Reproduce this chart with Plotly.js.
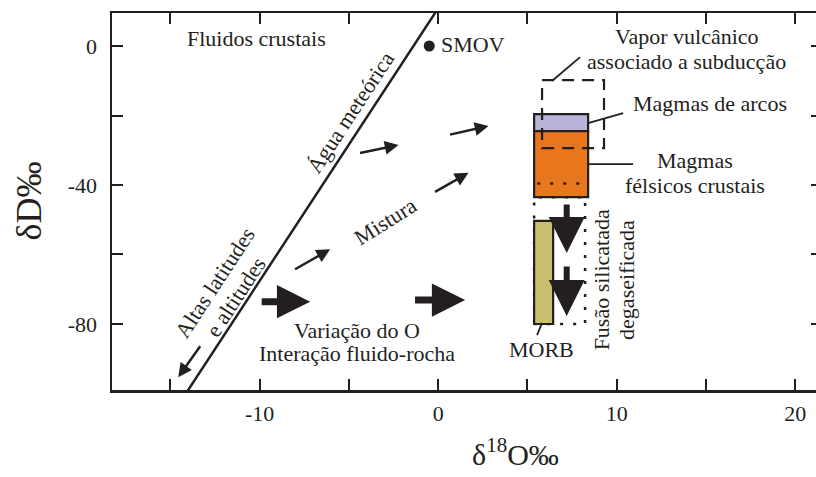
<!DOCTYPE html>
<html>
<head>
<meta charset="utf-8">
<script src="https://cdn.plot.ly/plotly-3.0.1.min.js"></script>
<style>
  html, body { margin: 0; padding: 0; overflow: hidden; background: #fff; }
  #chart { width: 830px; height: 490px; }
</style>
</head>
<body>
<div id="chart"></div>
<script>
// ---- data ----
const xTickVals = [-15, -10, -5, 0, 5, 10, 15, 20];
const xTickText = ['', '-10', '', '0', '', '10', '', '20'];
const yTickVals = [-80, -60, -40, -20, 0];
const yTickText = ['-80', '', '-40', '', '0'];

// Global meteoric water line
const gmwlX = [-14.13, -0.11];
const gmwlY = [-100, 10];

// SMOW point
const smowX = [-0.5];
const smowY = [0];

// Fields (x range, y range)
const arcX = [5.375, 8.4];     const arcY = [-24.5, -19.6];
const felsicX = [5.375, 8.4];  const felsicY = [-43.5, -24.5];
const morbX = [5.375, 6.44];   const morbY = [-80, -50.3];
const vaporX = [5.82, 9.29];   const vaporY = [-29.4, -9.8];
const degasX = [5.375, 8.23];  const degasY = [-80, -43.5];
const felsicDotX = [5.55, 8.2]; const felsicDotY = [-39.6, -39.6];

// Leader lines [x0, x1], [y0, y1]
const vaporLeadX = [6.44, 7.95];  const vaporLeadY = [-9.8, -3.2];
const arcLeadX = [8.4, 10.36];    const arcLeadY = [-22.2, -19.3];
const felsicLeadX = [8.4, 10.92]; const felsicLeadY = [-34.0, -34.0];
const morbLeadX = [5.82, 5.54];   const morbLeadY = [-79.7, -83.2];

// Arrows: tail (x,y) -> head (x,y)
const smallTailX = [-4.46, 0.58, -0.26, -8.10, -13.27];
const smallTailY = [-30.9, -25.6, -42.2, -64.5, -86.0];
const smallHeadX = [-2.22, 2.82, 1.70, -6.05, -14.56];
const smallHeadY = [-28.5, -23.0, -36.5, -58.5, -95.3];

const bigTailX = [-9.97, -1.38];
const bigTailY = [-73.6, -73.1];
const bigHeadX = [-7.17, 1.51];
const bigHeadY = [-73.6, -73.1];

const downTailX = [7.2, 7.2];
const downTailY = [-45.2, -63.0];
const downHeadX = [7.2, 7.2];
const downHeadY = [-59.6, -77.7];

// ---- styling ----
const INK = '#231f20';
const SERIF = 'Liberation Serif, Times New Roman, serif';
const LBL = 22;

const traces = [
  { x: gmwlX, y: gmwlY, mode: 'lines', line: { color: INK, width: 2.5 },
    hoverinfo: 'skip', showlegend: false },
  { x: smowX, y: smowY, mode: 'markers', marker: { color: INK, size: 11 },
    hoverinfo: 'skip', showlegend: false }
];

function rect(xs, ys, fill, dash, width) {
  return { type: 'rect', xref: 'x', yref: 'y', x0: xs[0], x1: xs[1], y0: ys[0], y1: ys[1],
    fillcolor: fill, line: { color: INK, width: width, dash: dash }, layer: 'above' };
}
function seg(xs, ys, dash, width) {
  return { type: 'line', xref: 'x', yref: 'y', x0: xs[0], x1: xs[1], y0: ys[0], y1: ys[1],
    line: { color: INK, width: width, dash: dash }, layer: 'above' };
}

const shapes = [
  rect(degasX, degasY, 'rgba(0,0,0,0)', '3px,10px', 2.5),
  rect(arcX, arcY, '#bab4da', 'solid', 2.2),
  rect(felsicX, felsicY, '#e8761c', 'solid', 2.2),
  rect(morbX, morbY, '#c9bf6f', 'solid', 2.2),
  rect(vaporX, vaporY, 'rgba(0,0,0,0)', '12px,8px', 2.2),
  seg(felsicDotX, felsicDotY, '3px,10px', 2.5),
  seg(vaporLeadX, vaporLeadY, 'solid', 1.8),
  seg(arcLeadX, arcLeadY, 'solid', 1.8),
  seg(felsicLeadX, felsicLeadY, 'solid', 1.8),
  seg(morbLeadX, morbLeadY, 'solid', 1.8)
];

function label(text, x, y, angle, extra) {
  return Object.assign({ text: text, x: x, y: y, xref: 'x', yref: 'y', showarrow: false,
    textangle: angle || 0, xanchor: 'center', yanchor: 'middle',
    font: { family: SERIF, size: LBL, color: INK } }, extra || {});
}

const annotations = [
  label('Fluidos crustais', -10.19, 2.3),
  label('SMOV', 0.05, 0.4, 0, { xanchor: 'left' }),
  label('Água meteórica', -4.93, -19.0, -56.8),
  label('Altas latitudes', -12.49, -68.2, -56.8),
  label('e altitudes', -11.31, -72.2, -56.8),
  label('Mistura', -2.97, -50.4, -32),
  label('Variação do O', -4.52, -81.8),
  label('Interação fluido-rocha', -4.52, -88.4),
  label('Vapor vulcânico', 13.91, 2.6),
  label('associado a subducção', 13.89, -4.6),
  label('Magmas de arcos', 15.23, -16.6),
  label('Magmas', 14.39, -33.0),
  label('félsicos crustais', 14.39, -40.2),
  label('MORB', 5.80, -87.4),
  label('Fusão silicatada', 9.15, -67.3, -90),
  label('degaseificada', 10.58, -67.3, -90),
  // axis titles
  { text: 'δ<sup>18</sup>O‰', xref: 'paper', yref: 'paper', x: (515 - 112) / 710, y: -0.11,
    xanchor: 'center', yanchor: 'top', showarrow: false,
    font: { family: SERIF, size: 30, color: INK } },
  { text: 'δD‰', xref: 'paper', yref: 'paper', x: (28 - 112) / 710, y: 0.5,
    xanchor: 'center', yanchor: 'middle', textangle: -90, showarrow: false,
    font: { family: SERIF, size: 36, color: INK } }
];

function arrow(tx, ty, hx, hy, w, size) {
  return { x: hx, y: hy, ax: tx, ay: ty, xref: 'x', yref: 'y', axref: 'x', ayref: 'y',
    text: '', showarrow: true, arrowhead: 2, arrowsize: size, arrowwidth: w,
    arrowcolor: INK, standoff: 0, startstandoff: 0 };
}
for (let i = 0; i < smallTailX.length; i++)
  annotations.push(arrow(smallTailX[i], smallTailY[i], smallHeadX[i], smallHeadY[i], 2.5, 1.1));
for (let i = 0; i < bigTailX.length; i++)
  annotations.push(arrow(bigTailX[i], bigTailY[i], bigHeadX[i], bigHeadY[i], 7, 0.95));
for (let i = 0; i < downTailX.length; i++)
  annotations.push(arrow(downTailX[i], downTailY[i], downHeadX[i], downHeadY[i], 6, 1.2));

const axisCommon = {
  showgrid: false, zeroline: false, showline: true, linecolor: INK, linewidth: 2.5,
  mirror: 'ticks', ticks: 'inside', ticklen: 11, tickwidth: 2, tickcolor: INK,
  tickfont: { family: SERIF, size: 22, color: INK }, fixedrange: true
};

const layout = {
  width: 830, height: 490,
  margin: { l: 112, r: 8, t: 13, b: 100 },
  paper_bgcolor: '#fff', plot_bgcolor: '#fff',
  showlegend: false,
  xaxis: Object.assign({}, axisCommon, { range: [-18.27, 21.5], tickmode: 'array',
    tickvals: xTickVals, ticktext: xTickText, ticklabelstandoff: 2 }),
  yaxis: Object.assign({}, axisCommon, { range: [-99, 9.5], tickmode: 'array',
    tickvals: yTickVals, ticktext: yTickText, ticklabelstandoff: 8 }),
  shapes: shapes,
  annotations: annotations
};

Plotly.newPlot('chart', traces, layout, { staticPlot: true, displayModeBar: false });
</script>
</body>
</html>
